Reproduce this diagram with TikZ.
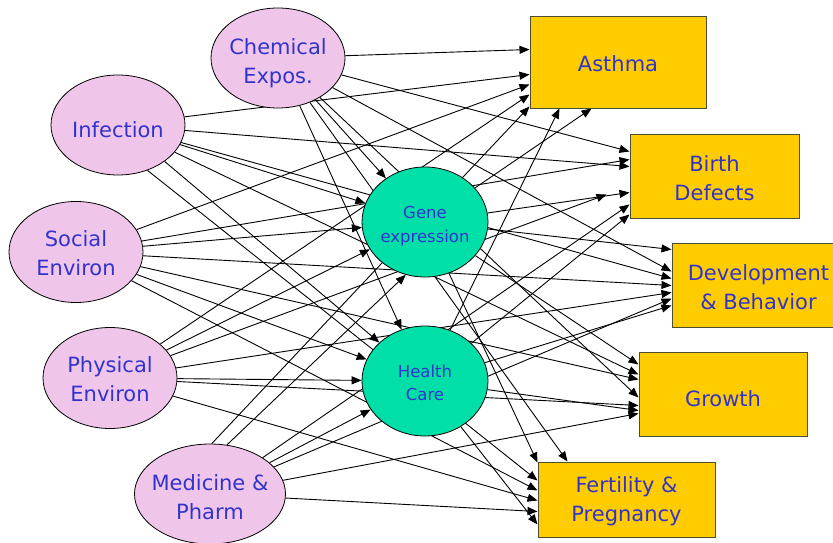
\documentclass[tikz,border=0pt]{standalone}
\usepackage{fontspec}
\setmainfont{DejaVu Sans}
\usetikzlibrary{arrows.meta,shapes.geometric}
\pgfdeclarelayer{bg}
\pgfsetlayers{bg,main}
\definecolor{pinkf}{HTML}{EFC6EA}
\definecolor{greenf}{HTML}{00DFA8}
\definecolor{yelf}{HTML}{FFCC00}
\definecolor{txtc}{HTML}{3333CC}
\definecolor{boxline}{HTML}{4D4D33}
% text block, lowered inside its node: #1 = strut height controlling the shift
\newcommand{\lowtext}[2]{\makebox[0pt]{\smash{\begin{tabular}{@{}c@{}}#2\end{tabular}}}\rule{0pt}{#1}}
\begin{document}
\begin{tikzpicture}[x=1pt,y=-1pt,
 expo/.style={ellipse,draw=black,line width=0.8pt,fill=pinkf,text=txtc,inner sep=0pt,font=\fontsize{21}{29}\selectfont},
 medi/.style={ellipse,draw=black,line width=0.8pt,fill=greenf,text=txtc,inner sep=0pt,font=\fontsize{16.5}{23.5}\selectfont},
 outc/.style={rectangle,draw=boxline,line width=1pt,fill=yelf,text=txtc,inner sep=0pt,font=\fontsize{21}{29}\selectfont},
 link/.style={draw=black,line width=0.9pt,-{Triangle[length=10pt,width=8pt]}}]
\useasboundingbox (0,0) rectangle (833,543);
\clip (0,0) rectangle (833,543);
% exposures
\node[expo,minimum width=134pt,minimum height=100pt] (chem) at (278,58) {\lowtext{20.5pt}{Chemical\\Expos.}};
\node[expo,minimum width=134pt,minimum height=100pt] (inf) at (118,125) {\lowtext{23.5pt}{Infection}};
\node[expo,minimum width=134pt,minimum height=101pt] (soc) at (76,252) {\lowtext{16.5pt}{Social\\Environ}};
\node[expo,minimum width=134pt,minimum height=101pt] (phys) at (110,378) {\lowtext{17.5pt}{Physical\\Environ}};
\node[expo,minimum width=151pt,minimum height=100pt] (med) at (210,494) {\lowtext{21.5pt}{Medicine \&\\Pharm}};
% mediators
\node[medi,minimum width=126pt,minimum height=110pt] (gene) at (425,222) {\lowtext{16.2pt}{Gene\\expression}};
\node[medi,minimum width=126pt,minimum height=110pt] (hc) at (425,381) {\lowtext{15.2pt}{Health\\Care}};
% outcomes
\node[outc,minimum width=176pt,minimum height=91pt] (asth) at (618,62.5) {\lowtext{17pt}{Asthma}};
\node[outc,minimum width=169pt,minimum height=84pt] (bd) at (714.5,176) {\lowtext{19.5pt}{Birth\\Defects}};
\node[outc,minimum width=173pt,minimum height=84pt] (dev) at (758.5,285) {\lowtext{18.5pt}{Development\\\& Behavior}};
\node[outc,minimum width=168pt,minimum height=84pt] (grow) at (723,394) {\lowtext{23.5pt}{Growth}};
\node[outc,minimum width=177pt,minimum height=75pt] (fert) at (626.5,499.5) {\lowtext{14.5pt}{Fertility \&\\Pregnancy}};
\begin{pgfonlayer}{bg}
% into mediators
\foreach \s in {chem,soc,phys}{
  \draw[link] (\s) -- (gene);
  \draw[link] (\s) -- (hc);
}
\draw[link] (inf) -- (gene);
\draw[link] (inf.-38) -- (hc);
\draw[link] (med.71) -- (gene.250);
\draw[link] (med) -- (hc);
% Asthma
\draw[link] (chem) -- ([yshift=-33pt]asth.north west);
\draw[link] (inf) -- ([yshift=-58pt]asth.north west);
\draw[link] (soc) -- ([yshift=-68pt]asth.north west);
\draw[link] (phys) -- ([yshift=-78pt]asth.north west);
\draw[link] (med.88) -- ([yshift=2pt]asth.south west);
\draw[link] (hc) -- ([xshift=30pt]asth.south west);
\draw[link] (gene) -- ([xshift=62pt]asth.south west);
% Birth defects
\draw[link] (chem) -- ([yshift=-18pt]bd.north west);
\draw[link] (soc) -- ([yshift=-26pt]bd.north west);
\draw[link] (inf) -- ([yshift=-33pt]bd.north west);
\draw[link] (phys) -- ([xshift=-23pt,yshift=-61pt]bd.north west);
\draw[link] (gene) -- ([yshift=-59pt]bd.north west);
\draw[link] (med) -- ([yshift=-71pt]bd.north west);
\draw[link] (hc) -- ([yshift=-81pt]bd.north west);
% Development
\draw[link] (gene) -- ([yshift=-7pt]dev.north west);
\draw[link] (chem) -- ([yshift=-29pt]dev.north west);
\draw[link] (inf) -- ([yshift=-36pt]dev.north west);
\draw[link] (soc) -- ([yshift=-43pt]dev.north west);
\draw[link] (phys) -- ([yshift=-50pt]dev.north west);
\draw[link] (med) -- ([yshift=-56pt]dev.north west);
\draw[link] (hc) -- ([yshift=-63pt]dev.north west);
% Growth
\draw[link] (gene) -- ([yshift=-13pt]grow.north west);
\draw[link] (inf) -- ([yshift=-23pt]grow.north west);
\draw[link] (soc) -- ([yshift=-28pt]grow.north west);
\draw[link] (chem) -- ([yshift=-46pt]grow.north west);
\draw[link] (phys) -- ([yshift=-54pt]grow.north west);
\draw[link] (hc) -- ([yshift=-59pt]grow.north west);
\draw[link] (med) -- ([yshift=-62pt]grow.north west);
% Fertility
\draw[link] (gene) -- ([yshift=-1pt]fert.north west);
\draw[link] (chem) -- ([xshift=30pt]fert.north west);
\draw[link] (inf.-57) -- ([yshift=-19pt]fert.north west);
\draw[link] (soc) -- ([yshift=-29pt]fert.north west);
\draw[link] (phys) -- ([yshift=-39pt]fert.north west);
\draw[link] (med) -- ([yshift=-50pt]fert.north west);
\draw[link] (hc) -- ([yshift=-63pt]fert.north west);
\end{pgfonlayer}
\end{tikzpicture}
\end{document}
